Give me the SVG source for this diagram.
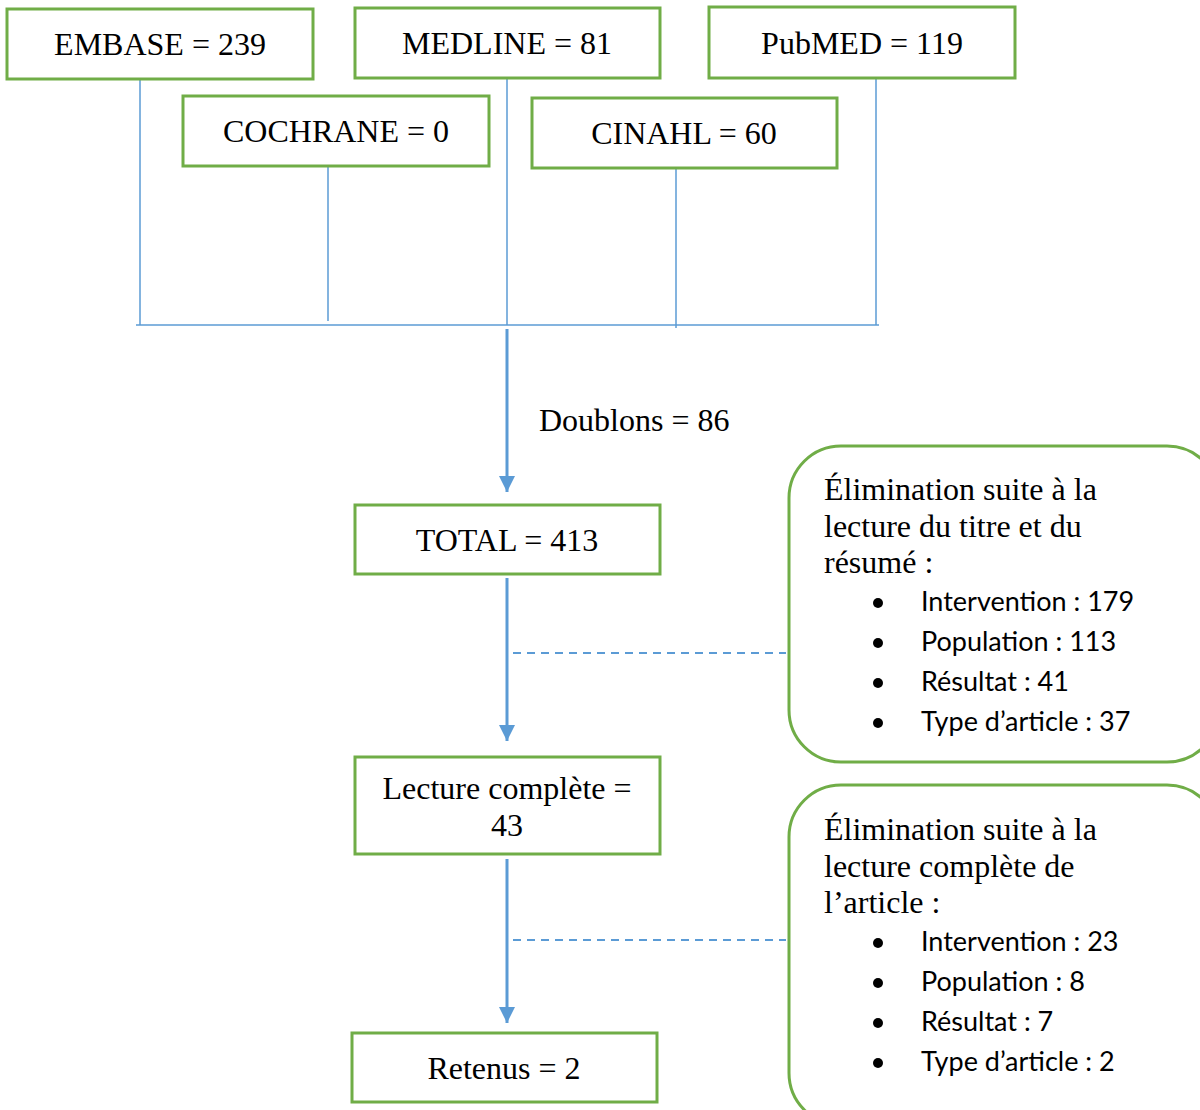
<svg xmlns="http://www.w3.org/2000/svg" width="1200" height="1110" viewBox="0 0 1200 1110">
<style>
.box{fill:#fff;stroke:#70AD47;stroke-width:3}
.rbox{fill:#fff;stroke:#70AD47;stroke-width:3}
.t{font-family:"Liberation Serif","Times New Roman",serif;font-size:32px;fill:#000}
.b{font-family:Lato,"Liberation Sans",sans-serif;font-size:27px;fill:#000}
.thin{stroke:#5B9BD5;stroke-width:1.5;fill:none}
.arr{stroke:#5B9BD5;stroke-width:3;fill:none}
.dash{stroke:#5B9BD5;stroke-width:1.8;stroke-dasharray:8 6;fill:none}
</style>
<defs>
<marker id="ah" markerUnits="userSpaceOnUse" markerWidth="18" markerHeight="16" refX="16" refY="8" orient="auto">
<path d="M0,0 L16,8 L0,16 Z" fill="#5B9BD5"/>
</marker>
</defs>
<rect width="1200" height="1110" fill="#fff"/>
<g id="connectors">
<line class="thin" x1="140" y1="79" x2="140" y2="325"/>
<line class="thin" x1="507" y1="78" x2="507" y2="325"/>
<line class="thin" x1="876" y1="78" x2="876" y2="325"/>
<line class="thin" x1="328" y1="166" x2="328" y2="321"/>
<line class="thin" x1="676" y1="168" x2="676" y2="328"/>
<line class="thin" x1="136" y1="325" x2="879" y2="325"/>
<line class="arr" x1="507" y1="329" x2="507" y2="492" marker-end="url(#ah)"/>
<line class="arr" x1="507" y1="578" x2="507" y2="741" marker-end="url(#ah)"/>
<line class="arr" x1="507" y1="859" x2="507" y2="1023" marker-end="url(#ah)"/>
<line class="dash" x1="513" y1="653" x2="786" y2="653"/>
<line class="dash" x1="513" y1="940" x2="786" y2="940"/>
<text class="t" x="539" y="431">Doublons = 86</text>
</g>
<g id="embase"><rect class="box" x="7" y="9" width="306" height="70"/><text class="t" x="160" y="55" text-anchor="middle">EMBASE = 239</text></g>
<g id="medline"><rect class="box" x="355" y="8" width="305" height="70"/><text class="t" x="507" y="54" text-anchor="middle">MEDLINE = 81</text></g>
<g id="pubmed"><rect class="box" x="709" y="7" width="306" height="71"/><text class="t" x="862" y="54" text-anchor="middle">PubMED = 119</text></g>
<g id="cochrane"><rect class="box" x="183" y="96" width="306" height="70"/><text class="t" x="336" y="142" text-anchor="middle">COCHRANE = 0</text></g>
<g id="cinahl"><rect class="box" x="532" y="98" width="305" height="70"/><text class="t" x="684" y="144" text-anchor="middle">CINAHL = 60</text></g>
<g id="total"><rect class="box" x="355" y="505" width="305" height="69"/><text class="t" x="507" y="551" text-anchor="middle">TOTAL = 413</text></g>
<g id="lecture"><rect class="box" x="355" y="757" width="305" height="97"/><text class="t" x="507" y="799" text-anchor="middle">Lecture complète =</text><text class="t" x="507" y="836" text-anchor="middle">43</text></g>
<g id="retenus"><rect class="box" x="352" y="1033" width="305" height="69"/><text class="t" x="504" y="1079" text-anchor="middle">Retenus = 2</text></g>
<g id="elim1">
<rect class="rbox" x="789" y="446" width="430" height="316" rx="52" ry="52"/>
<text class="t" x="824" y="500">Élimination suite à la</text>
<text class="t" x="824" y="537">lecture du titre et du</text>
<text class="t" x="824" y="573">résumé :</text>
<circle cx="878" cy="603" r="5"/><text class="b" x="921" y="611">Intervention : 179</text>
<circle cx="878" cy="643" r="5"/><text class="b" x="921" y="651">Population : 113</text>
<circle cx="878" cy="683" r="5"/><text class="b" x="921" y="691">Résultat : 41</text>
<circle cx="878" cy="723" r="5"/><text class="b" x="921" y="731">Type d’article : 37</text>
</g>
<g id="elim2">
<rect class="rbox" x="789" y="785" width="430" height="340" rx="52" ry="52"/>
<text class="t" x="824" y="840">Élimination suite à la</text>
<text class="t" x="824" y="877">lecture complète de</text>
<text class="t" x="824" y="913">l’article :</text>
<circle cx="878" cy="943" r="5"/><text class="b" x="921" y="951">Intervention : 23</text>
<circle cx="878" cy="983" r="5"/><text class="b" x="921" y="991">Population : 8</text>
<circle cx="878" cy="1023" r="5"/><text class="b" x="921" y="1031">Résultat : 7</text>
<circle cx="878" cy="1063" r="5"/><text class="b" x="921" y="1071">Type d’article : 2</text>
</g>
</svg>
